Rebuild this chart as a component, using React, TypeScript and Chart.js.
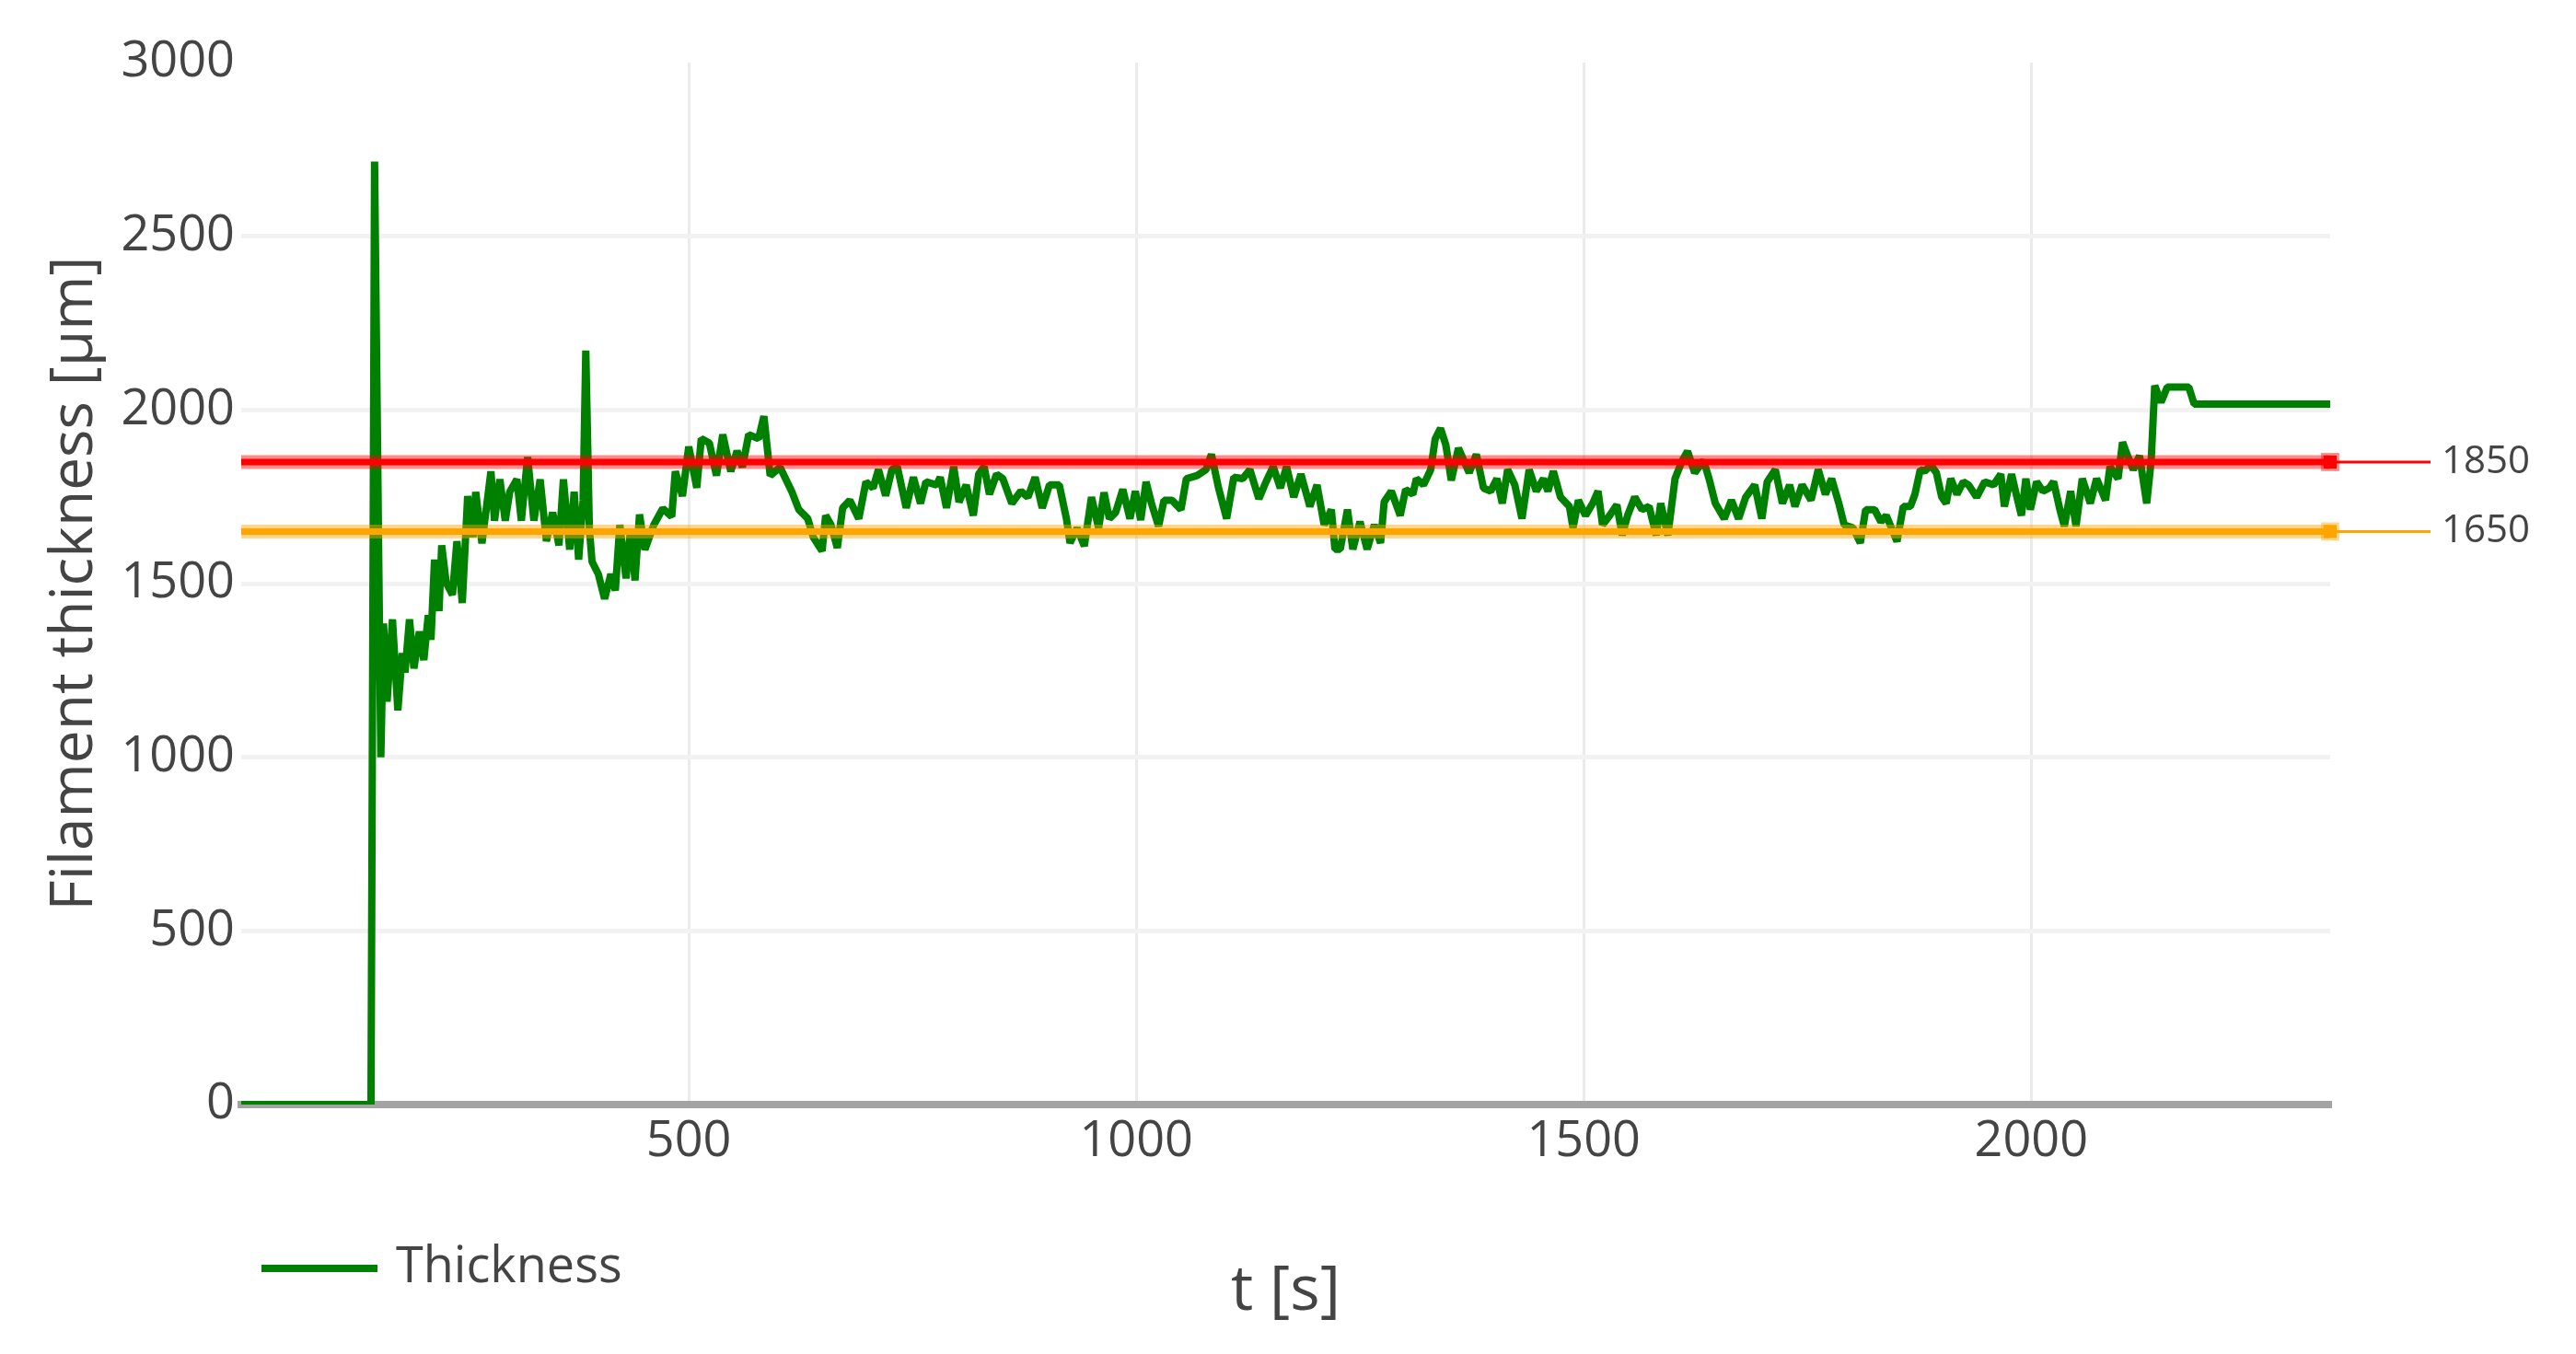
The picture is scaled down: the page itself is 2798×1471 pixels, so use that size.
import { useEffect, useRef } from "react";
import { Chart, ChartConfiguration, Plugin, registerables } from "chart.js";

Chart.register(...registerables);

// time [s] and filament thickness [µm]
const TIME_S = [
  0, 145, 149, 156, 159, 163, 169, 175, 180, 183, 188, 193, 199, 204, 209, 212, 216, 221, 224, 229,
  236, 241, 247, 253, 259, 262, 269, 279, 283, 289, 295, 300, 308, 313, 320, 327, 334, 341, 348, 355,
  360, 367, 372, 377, 382, 385, 389, 392, 399, 406, 413, 418, 423, 430, 435, 440, 445, 451, 461, 471,
  481, 485, 493, 500, 509, 514, 523, 531, 538, 547, 554, 560, 567, 578, 584, 591, 602,
  615, 623, 633, 639, 649, 653, 659, 666, 672, 680, 690, 698, 706, 712, 720, 727, 733, 743, 751,
  759, 765, 777, 781, 788, 796, 802, 810, 818, 824, 830, 836, 844, 851, 861, 871, 879, 887, 895,
  903, 914, 922, 926, 934, 942, 950, 958, 964, 970, 977, 985, 993, 999, 1005, 1011, 1017, 1025,
  1031, 1040, 1050, 1056, 1068, 1078, 1084, 1092, 1101, 1109, 1119, 1127, 1137, 1145, 1153, 1161,
  1168, 1176, 1184, 1194, 1202, 1210, 1218, 1222, 1228,
  1236, 1242, 1250, 1258, 1266, 1273, 1277, 1285, 1295, 1301, 1309, 1313, 1321, 1329, 1334, 1340,
  1346, 1352, 1360, 1366, 1372, 1380, 1388, 1396, 1403, 1409, 1415, 1423, 1431, 1439, 1447, 1455,
  1460, 1466, 1474, 1484, 1488, 1494, 1502, 1510, 1516, 1521, 1529, 1537, 1543, 1549, 1557, 1565,
  1573, 1581, 1586, 1594, 1602, 1610, 1616, 1624, 1634, 1640, 1647, 1657, 1665, 1673, 1681, 1691,
  1699, 1705, 1714, 1722, 1730, 1736, 1744, 1754, 1762, 1770, 1777, 1785, 1791, 1801, 1809, 1815,
  1825, 1832, 1838,
  1843, 1850, 1857, 1865, 1870, 1876, 1881, 1888, 1894, 1900, 1905, 1910, 1917, 1924, 1930, 1939,
  1948, 1958, 1966, 1970, 1978, 1984, 1989, 1994, 1999, 2006, 2013, 2020, 2025, 2032, 2037, 2044,
  2050, 2057, 2066, 2073, 2083, 2088, 2097, 2102, 2107, 2114, 2121, 2129, 2134, 2138, 2145, 2152,
  2176, 2182, 2334,
];

const THICKNESS_UM = [
  0, 0, 2715, 1000, 1385, 1160, 1397, 1135, 1300, 1244, 1397, 1256, 1362, 1280, 1409, 1338, 1569, 1421, 1610, 1503,
  1468, 1622, 1444, 1752, 1634, 1764, 1616, 1823, 1681, 1800, 1681, 1764, 1800, 1681, 1864, 1681, 1800, 1622, 1705, 1610,
  1800, 1598, 1764, 1569, 1740, 2171, 1658, 1563, 1527, 1456, 1527, 1480, 1669, 1515, 1657, 1509, 1699, 1598, 1669, 1716,
  1693, 1823, 1752, 1894, 1776, 1917, 1905, 1811, 1929, 1823, 1882, 1835, 1929, 1917, 1982, 1811, 1835,
  1766, 1713, 1687, 1634, 1594, 1696, 1669, 1603, 1718, 1740, 1687, 1793, 1775, 1828, 1753, 1828, 1837, 1718, 1806,
  1731, 1793, 1784, 1806, 1718, 1837, 1735, 1784, 1696, 1815, 1837, 1757, 1815, 1802, 1731, 1766, 1749, 1806, 1718,
  1784, 1784, 1687, 1617, 1660, 1608, 1749, 1660, 1762, 1687, 1705, 1771, 1687, 1766, 1683, 1793, 1731, 1665,
  1740, 1740, 1713, 1802, 1811, 1828, 1872, 1775, 1687, 1806, 1802, 1828, 1744, 1793, 1837, 1775,
  1837, 1749, 1815, 1722, 1784, 1669, 1713, 1599, 1599,
  1713, 1599, 1678, 1599, 1669, 1617, 1735, 1766, 1696, 1771, 1757, 1802, 1784, 1828, 1916, 1947,
  1898, 1797, 1890, 1854, 1819, 1872, 1775, 1766, 1802, 1731, 1828, 1784, 1687, 1828, 1766, 1802,
  1766, 1824, 1749, 1722, 1660, 1740, 1696, 1731, 1766, 1669, 1696, 1727, 1639, 1696, 1749, 1713,
  1722, 1639, 1731, 1639, 1802, 1854, 1881, 1819, 1854, 1802, 1731, 1687, 1740, 1687, 1749, 1784,
  1687, 1793, 1828, 1731, 1784, 1722, 1784, 1740, 1828, 1757, 1802, 1731, 1669, 1660, 1617, 1713,
  1713, 1678, 1696,
  1665, 1621, 1722, 1722, 1757, 1828, 1824, 1841, 1819, 1749, 1731, 1802, 1757, 1793, 1784, 1749,
  1793, 1784, 1815, 1722, 1815, 1749, 1696, 1802, 1713, 1793, 1766, 1775, 1793, 1713, 1665, 1766,
  1665, 1802, 1731, 1802, 1740, 1837, 1802, 1907, 1872, 1828, 1868, 1731, 1854, 2070, 2022, 2066,
  2066, 2017, 2017,
];

const LIMITS_UM = [1850, 1650];
const X_RANGE = [0, 2334];
const X_TICKS = [500, 1000, 1500, 2000];
const Y_TICKS = [0, 500, 1000, 1500, 2000, 2500, 3000];
const SERIES_LABEL = "Thickness";

const FONT = "'Open Sans', sans-serif";
const TEXT = "#444";
const GREEN = "#008000";
const LIMIT_RGB = ["255, 0, 0", "255, 165, 0"];

// stub line + value to the right of the plot for each limit, plus the legend below it
const sidePlugin: Plugin<"line"> = {
  id: "sideLabels",
  afterDraw(chart) {
    const { ctx, chartArea, scales } = chart;
    LIMITS_UM.forEach((v, i) => {
      const y = scales.y.getPixelForValue(v);
      ctx.save();
      ctx.strokeStyle = `rgb(${LIMIT_RGB[i]})`;
      ctx.lineWidth = 3;
      ctx.beginPath();
      ctx.moveTo(chartArea.right, y);
      ctx.lineTo(chartArea.right + 109, y);
      ctx.stroke();
      ctx.fillStyle = TEXT;
      ctx.font = `42px ${FONT}`;
      ctx.textAlign = "left";
      ctx.textBaseline = "middle";
      ctx.fillText(String(v), chartArea.right + 121, y);
      ctx.restore();
    });

    const ly = chartArea.bottom + 178;
    ctx.save();
    ctx.strokeStyle = GREEN;
    ctx.lineWidth = 8;
    ctx.beginPath();
    ctx.moveTo(chartArea.left + 22, ly);
    ctx.lineTo(chartArea.left + 148, ly);
    ctx.stroke();
    ctx.fillStyle = TEXT;
    ctx.font = `54px ${FONT}`;
    ctx.textAlign = "left";
    ctx.textBaseline = "middle";
    ctx.fillText(chart.data.datasets[0].label || "", chartArea.left + 168, ly);
    ctx.restore();
  },
};

export default function App() {
  const canvasRef = useRef<HTMLCanvasElement>(null);
  const chartRef = useRef<Chart | null>(null);

  useEffect(() => {
    if (!canvasRef.current) return;
    const ctx = canvasRef.current.getContext("2d");
    if (!ctx) return;

    if (chartRef.current) {
      chartRef.current.destroy();
    }

    const series = TIME_S.map((t, i) => ({ x: t, y: THICKNESS_UM[i] }));

    const limitSets = LIMITS_UM.flatMap((v, i) => {
      const pts = [
        { x: X_RANGE[0], y: v },
        { x: X_RANGE[1], y: v },
      ];
      return [
        {
          label: `limit ${v} halo`,
          data: pts,
          borderColor: `rgba(${LIMIT_RGB[i]}, 0.45)`,
          backgroundColor: `rgba(${LIMIT_RGB[i]}, 0.45)`,
          borderWidth: 15,
          pointStyle: "rect" as const,
          pointRadius: (c: any) => (c.dataIndex === 1 ? 14 : 0),
          pointBorderWidth: 0,
          clip: false as const,
          order: 2,
        },
        {
          label: `limit ${v}`,
          data: pts,
          borderColor: `rgb(${LIMIT_RGB[i]})`,
          backgroundColor: `rgb(${LIMIT_RGB[i]})`,
          borderWidth: 7,
          pointStyle: "rect" as const,
          pointRadius: (c: any) => (c.dataIndex === 1 ? 10 : 0),
          pointBorderWidth: 0,
          clip: false as const,
          order: 1,
        },
      ];
    });

    const config: ChartConfiguration<"line"> = {
      type: "line",
      data: {
        datasets: [
          {
            label: SERIES_LABEL,
            data: series,
            borderColor: GREEN,
            borderWidth: 8,
            borderJoinStyle: "bevel",
            pointRadius: 0,
            tension: 0,
            order: 10,
          },
          ...(limitSets as any),
        ],
      },
      options: {
        animation: false,
        responsive: true,
        maintainAspectRatio: false,
        devicePixelRatio: 1,
        layout: { padding: { top: 68, right: 267, left: 0, bottom: 0 } },
        plugins: {
          legend: { display: false },
          tooltip: { enabled: false },
        },
        scales: {
          x: {
            type: "linear",
            min: X_RANGE[0],
            max: X_RANGE[1],
            afterBuildTicks: (scale) => {
              scale.ticks = X_TICKS.map((value) => ({ value }));
            },
            afterFit: (scale) => {
              scale.height = 271;
            },
            ticks: {
              color: TEXT,
              padding: 8,
              maxRotation: 0,
              font: { family: FONT, size: 54 },
              callback: (v) => String(v),
            },
            grid: { color: "#ebebeb", lineWidth: 3, drawTicks: false },
            border: { display: true, color: "#a3a3a3", width: 8 },
            title: {
              display: true,
              text: "t [s]",
              color: TEXT,
              font: { family: FONT, size: 68 },
              padding: { top: 0, bottom: 27 },
            },
          },
          y: {
            min: 0,
            max: 3000,
            afterBuildTicks: (scale) => {
              scale.ticks = Y_TICKS.map((value) => ({ value }));
            },
            afterFit: (scale) => {
              scale.width = 262;
            },
            ticks: {
              color: TEXT,
              padding: 7,
              font: { family: FONT, size: 54 },
              callback: (v) => String(v),
            },
            grid: {
              color: (c) => (c.tick && c.tick.value === 3000 ? "rgba(0,0,0,0)" : "#f2f2f2"),
              lineWidth: 5,
              drawTicks: false,
            },
            border: { display: false },
            title: {
              display: true,
              text: "Filament thickness [µm]",
              color: TEXT,
              font: { family: FONT, size: 64 },
              padding: { top: 43, bottom: 0 },
            },
          },
        },
      },
      plugins: [sidePlugin],
    };

    chartRef.current = new Chart(ctx, config);

    return () => {
      if (chartRef.current) {
        chartRef.current.destroy();
        chartRef.current = null;
      }
    };
  }, []);

  return (
    <div style={{ position: "fixed", left: 0, top: 0, width: "100vw", height: "100vh", background: "#fff" }}>
      <canvas ref={canvasRef}></canvas>
    </div>
  );
}
